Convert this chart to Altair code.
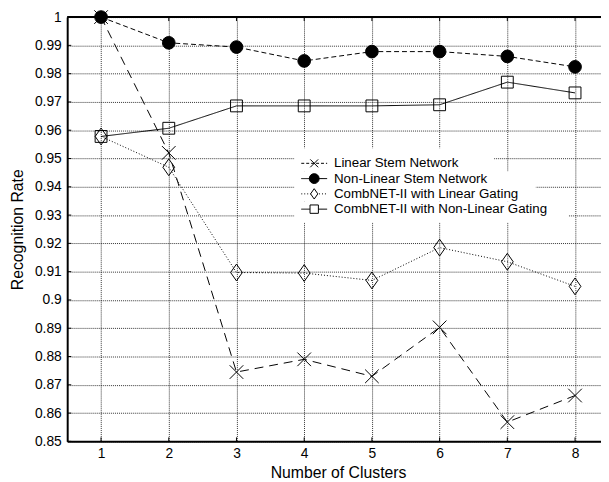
import altair as alt
import pandas as pd

# ---------------- data ----------------
clusters = [1, 2, 3, 4, 5, 6, 7, 8]
linear_stem = [1.000, 0.952, 0.8745, 0.879, 0.873, 0.8903, 0.8568, 0.8662]
nonlinear_stem = [1.000, 0.9909, 0.9894, 0.9845, 0.9878, 0.9878, 0.9861, 0.9824]
combnet_linear = [0.9578, 0.9469, 0.9097, 0.9095, 0.9069, 0.9185, 0.9135, 0.9048]
combnet_nonlinear = [0.9578, 0.9607, 0.9686, 0.9686, 0.9686, 0.9690, 0.9770, 0.9732]

series_names = [
    "Linear Stem Network",
    "Non-Linear Stem Network",
    "CombNET-II with Linear Gating",
    "CombNET-II with Non-Linear Gating",
]
series_values = [linear_stem, nonlinear_stem, combnet_linear, combnet_nonlinear]

x_ticks = [1, 2, 3, 4, 5, 6, 7, 8]
y_ticks = [0.85, 0.86, 0.87, 0.88, 0.89, 0.90, 0.91, 0.92, 0.93, 0.94,
           0.95, 0.96, 0.97, 0.98, 0.99, 1.00]

x_domain = [0.5, 8.5]
y_domain = [0.85, 1.0]

# inward tick lengths in data units (about 4 px)
x_tick_len = 0.0014
y_tick_len = 0.06

# legend placement (data coordinates)
legend_rows_y = [0.9483, 0.9429, 0.9375, 0.9321]
legend_line_x = [3.957, 4.339]
legend_marker_x = 4.148
legend_text_x = 4.44
# white backgrounds behind legend rows: x1, x2, y1, y2
legend_bg_x1 = [3.853, 3.853, 3.853]
legend_bg_x2 = [6.805, 7.42, 7.905]
legend_bg_y1 = [0.9536, 0.9455, 0.9347]
legend_bg_y2 = [0.9455, 0.9347, 0.9274]

# ---------------- styles ----------------
X_PATH = "M-1,-1L1,1M1,-1L-1,1"
DIAMOND_PATH = "M0,-1L0.7,0L0,1L-0.7,0Z"
styles = [
    dict(dash=[9, 6], shape=X_PATH, size=190, filled=False, ldash=[3, 2], lsize=64),
    dict(dash=[5, 3], shape="circle", size=165, filled=True, ldash=[1, 0], lsize=100),
    dict(dash=[1, 2], shape=DIAMOND_PATH, size=290, filled=False, ldash=[1, 2], lsize=110),
    dict(dash=[1, 0], shape="square", size=144, filled=False, ldash=[1, 0], lsize=72),
]

FONT = "Liberation Sans"

x_scale = alt.Scale(domain=x_domain, range=[0, 549], nice=False, zero=False)
y_scale = alt.Scale(domain=y_domain, nice=False, zero=False)

x_axis = alt.Axis(
    values=x_ticks, format="d", title="Number of Clusters",
    labelFontSize=14, labelPadding=5, labelColor="black", labelFont=FONT,
    ticks=False, domainWidth=2, domainColor="black",
    grid=True, gridDash=[1, 1], gridColor="black", gridOpacity=1, gridWidth=0.8,
    titleFontSize=16, titleFontWeight="normal", titleColor="black", titleFont=FONT,
    titleBaseline="alphabetic", titleY=37, titleX=274.5,
)
y_axis = alt.Axis(
    values=y_ticks, format="~g", title="Recognition Rate",
    labelFontSize=14, labelPadding=6, labelColor="black", labelFont=FONT,
    ticks=False, domainWidth=2, domainColor="black",
    grid=True, gridDash=[1, 1], gridColor="black", gridOpacity=1, gridWidth=0.8,
    titleFontSize=16, titleFontWeight="normal", titleColor="black", titleFont=FONT,
    titleBaseline="alphabetic", titleX=-45, titleY=215,
)


def X(field):
    return alt.X(field, type="quantitative", scale=x_scale, axis=x_axis)


def Y(field):
    return alt.Y(field, type="quantitative", scale=y_scale, axis=y_axis)


layers = []

# inward tick marks (bottom/top for x, left for y)
xt_df = pd.DataFrame({
    "x": x_ticks + x_ticks,
    "y1": [y_domain[0]] * len(x_ticks) + [y_domain[1]] * len(x_ticks),
    "y2": [y_domain[0] + x_tick_len] * len(x_ticks) + [y_domain[1] - x_tick_len] * len(x_ticks),
})
layers.append(
    alt.Chart(xt_df).mark_rule(color="black", strokeWidth=1)
    .encode(x=X("x"), y=Y("y1"), y2="y2")
)
yt_df = pd.DataFrame({"y": y_ticks,
                      "x1": [x_domain[0]] * len(y_ticks),
                      "x2": [x_domain[0] + y_tick_len] * len(y_ticks)})
layers.append(
    alt.Chart(yt_df).mark_rule(color="black", strokeWidth=1)
    .encode(x=X("x1"), x2="x2", y=Y("y"))
)

# white legend backgrounds
bg_df = pd.DataFrame({"x1": legend_bg_x1, "x2": legend_bg_x2,
                      "y1": legend_bg_y1, "y2": legend_bg_y2})
layers.append(
    alt.Chart(bg_df).mark_rect(fill="white", strokeWidth=0)
    .encode(x=X("x1"), x2="x2", y=Y("y1"), y2="y2")
)

for name, vals, st, ly in zip(series_names, series_values, styles, legend_rows_y):
    df = pd.DataFrame({"cluster": clusters, "rate": vals})
    layers.append(
        alt.Chart(df).mark_line(color="black", strokeWidth=1, strokeDash=st["dash"])
        .encode(x=X("cluster"), y=Y("rate"))
    )
    if st["filled"]:
        pm = alt.Chart(df).mark_point(shape=st["shape"], size=st["size"], filled=True,
                                      fill="black", stroke="black", strokeWidth=1, opacity=1)
    else:
        pm = alt.Chart(df).mark_point(shape=st["shape"], size=st["size"], filled=False,
                                      stroke="black", strokeWidth=1, opacity=1)
    layers.append(pm.encode(x=X("cluster"), y=Y("rate")))

    # legend entry
    ldf = pd.DataFrame({"x1": [legend_line_x[0]], "x2": [legend_line_x[1]],
                        "xm": [legend_marker_x], "xt": [legend_text_x],
                        "y": [ly], "label": [name]})
    layers.append(
        alt.Chart(ldf).mark_rule(color="black", strokeWidth=1, strokeDash=st["ldash"])
        .encode(x=X("x1"), x2="x2", y=Y("y"))
    )
    if st["filled"]:
        lm = alt.Chart(ldf).mark_point(shape=st["shape"], size=st["lsize"], filled=True,
                                       fill="black", stroke="black", strokeWidth=1, opacity=1)
    else:
        lm = alt.Chart(ldf).mark_point(shape=st["shape"], size=st["lsize"], filled=False,
                                       fill="white", stroke="black", strokeWidth=1, opacity=1)
    layers.append(lm.encode(x=X("xm"), y=Y("y")))
    layers.append(
        alt.Chart(ldf).mark_text(align="left", baseline="middle", fontSize=13.5,
                                 font=FONT, color="black")
        .encode(x=X("xt"), y=Y("y"), text="label:N")
    )

# top border of the plot frame
top_df = pd.DataFrame({"x1": [x_domain[0]], "x2": [x_domain[1]], "y": [y_domain[1]]})
layers.append(
    alt.Chart(top_df).mark_rule(color="black", strokeWidth=2)
    .encode(x=X("x1"), x2="x2", y=Y("y"))
)

chart = (
    alt.layer(*layers)
    .properties(width=541, height=430,
                autosize=alt.AutoSizeParams(type="none"),
                padding={"left": 60, "top": 6, "right": 0, "bottom": 40},
                background="white")
    .configure_view(strokeWidth=0)
)

chart.save("out.html", embed_options={"renderer": "svg", "actions": False})
